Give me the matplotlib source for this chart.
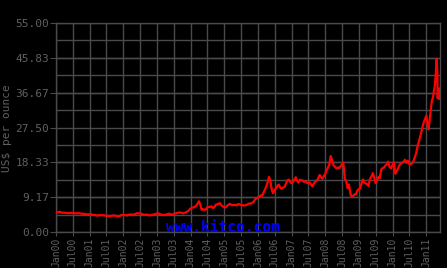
import numpy as np
import pandas as pd
import matplotlib
matplotlib.use("Agg")
import matplotlib.pyplot as plt

# semi-monthly silver prices, US$ per ounce, 2000-2010 (1st and 15th of each month)
prices_2000 = [5.35, 5.15, 5.25, 5.30, 5.10, 5.05, 5.10, 5.00, 5.00, 4.95, 4.98, 5.05,
               5.00, 4.95, 4.92, 4.90, 4.95, 4.90, 4.85, 4.80, 4.75, 4.70, 4.65, 4.60]
prices_2001 = [4.70, 4.65, 4.55, 4.45, 4.45, 4.35, 4.35, 4.38, 4.45, 4.40, 4.40, 4.35,
               4.25, 4.22, 4.20, 4.25, 4.30, 4.35, 4.30, 4.25, 4.15, 4.18, 4.30, 4.50]
prices_2002 = [4.55, 4.45, 4.40, 4.40, 4.55, 4.60, 4.60, 4.55, 4.65, 4.80, 4.95, 4.90,
               4.90, 4.80, 4.60, 4.55, 4.55, 4.60, 4.45, 4.40, 4.50, 4.55, 4.60, 4.75]
prices_2003 = [4.85, 4.90, 4.70, 4.55, 4.55, 4.45, 4.55, 4.60, 4.75, 4.85, 4.60, 4.55,
               4.75, 4.85, 5.00, 5.05, 5.15, 5.10, 4.95, 4.90, 5.10, 5.25, 5.40, 5.75]
prices_2004 = [6.20, 6.40, 6.45, 6.60, 6.90, 7.40, 8.10, 7.20, 5.80, 6.00, 5.85, 5.95,
               6.50, 6.60, 6.60, 6.75, 6.30, 6.55, 7.20, 7.25, 7.45, 7.60, 7.00, 6.70]
prices_2005 = [6.60, 6.45, 6.90, 7.20, 7.40, 7.20, 7.05, 7.10, 7.15, 7.00, 7.35, 7.25,
               7.05, 7.10, 6.95, 7.05, 7.15, 7.35, 7.50, 7.45, 7.70, 7.90, 8.60, 8.80]
prices_2006 = [9.10, 9.30, 9.60, 9.50, 10.30, 11.00, 12.00, 13.00, 14.50, 13.50, 11.00, 10.20,
               11.00, 11.50, 12.20, 12.50, 11.60, 11.40, 11.70, 11.80, 12.70, 13.50, 13.80, 13.20]
prices_2007 = [12.80, 13.10, 13.80, 14.40, 13.50, 13.00, 13.70, 13.70, 13.50, 13.20, 13.40, 13.00,
               12.80, 13.00, 12.40, 12.00, 12.80, 13.20, 13.50, 14.00, 15.00, 14.50, 14.00, 14.60]
prices_2008 = [15.30, 16.20, 17.00, 17.80, 20.00, 19.00, 17.50, 17.20, 16.70, 17.00, 16.80, 17.30,
               17.80, 18.30, 14.00, 13.50, 11.50, 12.50, 10.00, 9.30, 9.50, 9.90, 10.00, 10.90]
prices_2009 = [11.30, 11.50, 13.00, 13.80, 13.00, 12.80, 12.50, 12.10, 14.00, 14.50, 15.50, 14.50,
               12.90, 13.50, 14.50, 14.20, 16.50, 16.80, 17.00, 17.50, 17.80, 18.50, 17.00, 16.80]
prices_2010 = [17.60, 18.40, 15.30, 16.00, 16.70, 17.50, 18.00, 18.20, 18.50, 19.00, 18.20, 18.80,
               17.90, 17.80, 18.10, 18.60, 19.80, 20.80, 22.80, 23.80, 25.50, 27.00, 28.50, 29.50]

# 2011, uneven dates
dates_2011 = ["2011-01-03", "2011-01-14", "2011-01-27", "2011-02-10", "2011-02-22",
              "2011-03-04", "2011-03-15", "2011-03-25", "2011-04-05", "2011-04-15",
              "2011-04-25", "2011-04-28", "2011-05-02", "2011-05-05", "2011-05-12",
              "2011-05-20", "2011-05-26", "2011-05-31"]
prices_2011 = [30.6, 28.6, 27.0, 30.0, 32.5, 34.6, 35.3, 37.0, 38.5, 41.5,
               45.6, 44.0, 42.0, 35.2, 36.0, 35.0, 37.8, 36.8]

y_ticks = [0.00, 9.17, 18.33, 27.50, 36.67, 45.83, 55.00]

dates = list(pd.date_range("2000-01-01", "2010-12-15", freq="SMS")) + list(pd.to_datetime(dates_2011))
prices = (prices_2000 + prices_2001 + prices_2002 + prices_2003 + prices_2004 + prices_2005
          + prices_2006 + prices_2007 + prices_2008 + prices_2009 + prices_2010 + prices_2011)

txt = "#606060"
grid = "#4a4a4a"

fig = plt.figure(figsize=(4.47, 2.68), dpi=100, facecolor="black")
ax = fig.add_axes([56 / 447, 36 / 268, 384 / 447, 209 / 268])
ax.set_facecolor("black")

ax.plot(dates, prices, color="#ff0000", linewidth=1.6, zorder=3)

ax.set_xlim(pd.Timestamp("2000-01-01"), pd.Timestamp("2011-05-31"))
ax.set_ylim(0, 55)

ax.set_yticks(y_ticks)
ax.set_yticklabels(["%.2f" % v for v in y_ticks])
ax.set_yticks(np.arange(0, 55.01, 55 / 12), minor=True)

xt = pd.date_range("2000-01-01", "2011-01-01", freq="6MS")
ax.set_xticks(xt)
ax.set_xticklabels([d.strftime("%b%y") for d in xt], rotation=90)

ax.grid(True, which="both", color=grid, linewidth=1)
ax.set_axisbelow(True)
for s in ax.spines.values():
    s.set_color(grid)
    s.set_linewidth(1)

ax.tick_params(axis="y", which="both", length=4, color=grid, labelcolor=txt, labelsize=8, pad=1)
ax.tick_params(axis="y", which="minor", length=0)
ax.tick_params(axis="x", length=3, color=grid, labelcolor=txt, labelsize=7, pad=1)
for lab in ax.get_xticklabels() + ax.get_yticklabels():
    lab.set_family("DejaVu Sans Mono")

fig.text(7.5 / 447, 1 - 128 / 268, "US$ per ounce", rotation=90, color=txt, fontsize=8,
         family="DejaVu Sans Mono", ha="center", va="center")
fig.text(223 / 447, 1 - 227 / 268, "www.kitco.com", color="#0000ff", fontsize=10.5,
         family="DejaVu Sans Mono", fontweight="bold", ha="center", va="center")

fig.savefig("out.png", dpi=100, facecolor="black")
